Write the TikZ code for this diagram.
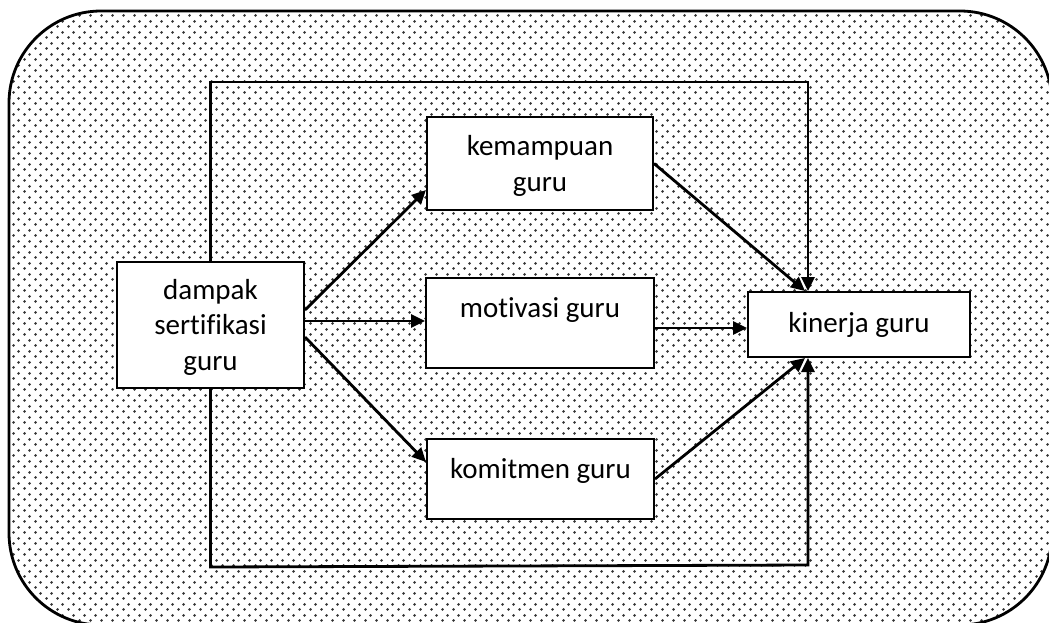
\documentclass[tikz,border=0pt]{standalone}
\usepackage{fontspec}
\setmainfont[Ligatures={NoCommon}]{Carlito}
\usetikzlibrary{arrows.meta,patterns}
\pgfdeclarepatternformonly{gdots}{\pgfqpoint{0pt}{0pt}}{\pgfqpoint{11pt}{11pt}}{\pgfqpoint{11pt}{11pt}}{%
  \pgfpathcircle{\pgfqpoint{2.75pt}{2.75pt}}{1.6pt}%
  \pgfpathcircle{\pgfqpoint{8.25pt}{8.25pt}}{1.6pt}%
  \pgfusepath{fill}}
\tikzset{
  box/.style={draw=black, fill=white, line width=2pt, inner sep=0pt},
  lbl/.style={anchor=base, inner sep=0pt, align=center, font=\fontsize{29}{35.5}\selectfont},
  conn/.style={draw=black, line width=2.8pt, -{Triangle[length=14pt,width=13pt]}},
}
\begin{document}
\begin{tikzpicture}[x=1pt,y=-1pt]
\useasboundingbox (0,0) rectangle (1049,622);
\begin{scope}
\clip (0,0) rectangle (1049,622);
\draw[line width=2.8pt, pattern=gdots, pattern color=black!80, rounded corners=92pt] (9,11) rectangle (1052,625);
\end{scope}

% boxes
\node[box, minimum width=187pt, minimum height=126pt] (dam) at (210.5,325) {};
\node[box, minimum width=226pt, minimum height=93pt] (kem) at (540,163.5) {};
\node[box, minimum width=228pt, minimum height=90pt] (mot) at (540,323) {};
\node[box, minimum width=227pt, minimum height=80pt] (kom) at (540.5,479) {};
\node[box, minimum width=222pt, minimum height=65pt] (kin) at (859,324.5) {};

% texts (base = last line)
\node[lbl] (damT) at (210.5,370) {dampak\\sertifikasi\\guru};
\node[lbl] (kemT) at (540,191) {kemampuan\\guru};
\node[lbl] (motT) at (540,317) {motivasi guru};
\node[lbl] (komT) at (540.5,478) {komitmen guru};
\node[lbl] (kinT) at (859,332) {kinerja guru};

% anchor points on kinerja
\coordinate (kinTop) at ([xshift=-51pt]kin.north);
\coordinate (kinBot) at ([xshift=-51pt]kin.south);

% arrows from dampak
\draw[conn] ([yshift=15pt]dam.east) -- ([yshift=-26.5pt]kem.west);
\draw[conn] ([yshift=4pt]dam.east) -- ([yshift=4pt]dam.east -| mot.west);
\draw[conn] ([yshift=-12pt]dam.east) -- ([yshift=17pt]kom.west);

% arrows to kinerja
\draw[conn] (kem.east) -- ([xshift=-54pt]kin.north);
\draw[conn] ([yshift=-5pt]mot.east) -- ([yshift=-5pt]mot.east -| kin.west);
\draw[conn] (kom.east) -- ([xshift=-54pt]kin.south);

% outer loops
\draw[conn] (dam.north) -- (dam.north |- 0,82) -- (kinTop |- 0,82) -- (kinTop);
\draw[conn] (dam.south) -- (dam.south |- 0,567) -- (kinBot |- 0,565) -- (kinBot);
\end{tikzpicture}
\end{document}
